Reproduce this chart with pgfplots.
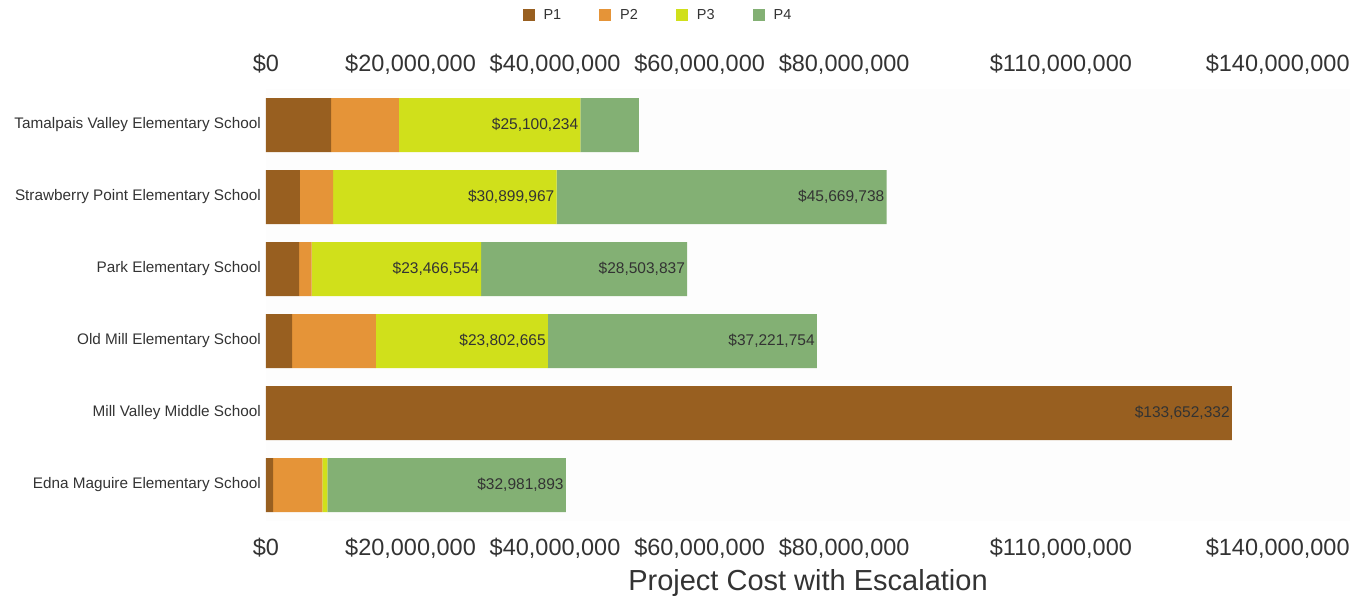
\documentclass[border=0pt]{standalone}
\usepackage{pgfplots}
\pgfplotsset{compat=1.18}
\usepackage{pgfplotstable}
\usepackage{fontspec}
\setmainfont{Liberation Sans}

\definecolor{pone}{HTML}{985F20}
\definecolor{ptwo}{HTML}{E59438}
\definecolor{pthree}{HTML}{D0E01B}
\definecolor{pfour}{HTML}{83B074}
\definecolor{txt}{HTML}{333333}

% costs in millions of dollars, rows bottom to top
\pgfplotstableread{
y p1 l1 p2 p3 l3 p4 l4
0 1.0 {} 6.8 0.7 {} 32.981893 \$32,981,893
1 133.652332 \$133,652,332 0 0 {} 0 {}
2 3.6 {} 11.6 23.802665 \$23,802,665 37.221754 \$37,221,754
3 4.6 {} 1.7 23.466554 \$23,466,554 28.503837 \$28,503,837
4 4.7 {} 4.6 30.899967 \$30,899,967 45.669738 \$45,669,738
5 9.0 {} 9.4 25.100234 \$25,100,234 8.1 {}
}\costs

\pgfplotsset{
    common/.style={
        width=1084pt, height=432pt,
        scale only axis,
        at={(0pt,0pt)}, anchor=south west,
        xmin=0, xmax=150,
        ymin=-0.5, ymax=5.5,
        axis line style={draw=none},
        major tick length=0pt,
        xtick={0,20,40,60,80,110,140},
        xticklabels={{\$0},{\$20,000,000},{\$40,000,000},{\$60,000,000},{\$80,000,000},{\$110,000,000},{\$140,000,000}},
        xticklabel style={font=\fontsize{23.5}{28}\selectfont, text=txt, inner sep=0pt, anchor=center},
    },
    % labels sit at the middle of a stacked segment: push them to its right end
    seglabel/.style={
        nodes near coords, point meta=explicit symbolic,
        visualization depends on={\thisrow{#1}*3.61333 \as \halfw},
        every node near coord/.append style={xshift=\halfw pt - 2pt},
    },
}

\begin{document}
\begin{tikzpicture}
\useasboundingbox (-266pt,-76pt) rectangle (1085pt,521pt);
\begin{axis}[
    common,
    axis background/.style={fill=black!0.6},
    xbar stacked,
    bar width=54pt,
    xticklabel style={yshift=-27pt},
    ytick={0,1,2,3,4,5},
    yticklabels={Edna Maguire Elementary School, Mill Valley Middle School, Old Mill Elementary School, Park Elementary School, Strawberry Point Elementary School, Tamalpais Valley Elementary School},
    yticklabel style={font=\fontsize{15.3}{18}\selectfont, text=txt, inner sep=0pt, anchor=east, xshift=-5pt},
    xlabel={Project Cost with Escalation},
    xlabel style={at={(axis description cs:0.5,0)}, anchor=center, yshift=-62pt, font=\fontsize{29}{33}\selectfont, text=txt},
    every node near coord/.append style={font=\fontsize{15.5}{18}\selectfont, text=txt, inner sep=0pt, anchor=east},
    legend style={at={(axis description cs:0.3616,1)}, anchor=center, yshift=74pt,
        draw=none, fill=none, font=\fontsize{14.5}{17}\selectfont, text=txt,
        /tikz/every odd column/.append style={column sep=7pt},
        /tikz/every even column/.append style={column sep=36pt}},
    legend columns=-1,
    legend image code/.code={\fill[#1] (0pt,-6pt) rectangle (12pt,6pt);},
]
\addplot[fill=pone, draw=none, seglabel=p1]
    table[x=p1, y=y, meta=l1] {\costs};
\addplot[fill=ptwo, draw=none]
    table[x=p2, y=y] {\costs};
\addplot[fill=pthree, draw=none, seglabel=p3]
    table[x=p3, y=y, meta=l3] {\costs};
\addplot[fill=pfour, draw=none, seglabel=p4]
    table[x=p4, y=y, meta=l4] {\costs};
\legend{P1,P2,P3,P4}
\end{axis}
\begin{axis}[
    common,
    xticklabel pos=upper,
    xticklabel style={yshift=25pt},
    ytick=\empty,
]
\end{axis}
\end{tikzpicture}
\end{document}
